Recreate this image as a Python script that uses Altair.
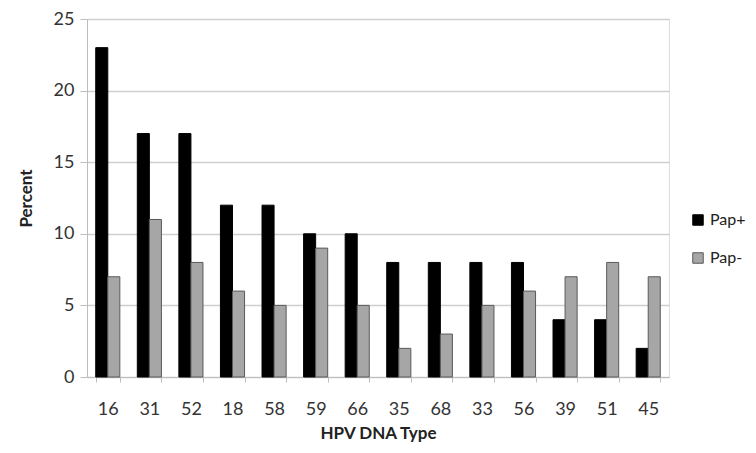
import altair as alt
import pandas as pd

types = ["16", "31", "52", "18", "58", "59", "66", "35", "68", "33", "56", "39", "51", "45"]
pap_pos = [23, 17, 17, 12, 12, 10, 10, 8, 8, 8, 8, 4, 4, 2]
pap_neg = [7, 11, 8, 6, 5, 9, 5, 2, 3, 5, 6, 7, 8, 7]
series = ["Pap+", "Pap-"]

rows = []
for t, p, n in zip(types, pap_pos, pap_neg):
    rows.append({"type": t, "series": "Pap+", "value": p})
    rows.append({"type": t, "series": "Pap-", "value": n})
df = pd.DataFrame(rows)

FONT = "Lato"

chart = alt.Chart(df).mark_bar(strokeWidth=1).encode(
    x=alt.X("type:N", sort=types, title="HPV DNA Type",
            scale=alt.Scale(paddingInner=0.42, paddingOuter=0.21),
            axis=alt.Axis(labelAngle=0, tickBand="extent", labelFontSize=18,
                          labelColor="#333333", labelFont=FONT, labelPadding=18,
                          titleFontSize=17, titleFont=FONT, titleFontWeight="bold",
                          titleColor="#222222", titlePadding=7,
                          domainColor="#bdbdbd", tickColor="#bdbdbd", tickSize=5)),
    xOffset=alt.XOffset("series:N", sort=series),
    y=alt.Y("value:Q", title="Percent",
            scale=alt.Scale(domain=[0, 25]),
            axis=alt.Axis(values=[0, 5, 10, 15, 20, 25], labelFontSize=18,
                          labelColor="#333333", labelFont=FONT, labelPadding=6,
                          titleFontSize=17, titleFont=FONT, titleFontWeight="bold",
                          titleColor="#222222", titlePadding=18,
                          gridColor="#cfcfcf", gridWidth=1.5,
                          domainColor="#bdbdbd", tickColor="#bdbdbd", tickSize=7)),
    color=alt.Color("series:N", sort=series,
                    scale=alt.Scale(domain=series, range=["#000000", "#a6a6a6"]),
                    legend=alt.Legend(title=None, orient="none", legendX=603, legendY=193,
                                      symbolType="square", symbolSize=110,
                                      symbolStrokeColor="#555555", symbolStrokeWidth=1,
                                      labelFontSize=16, labelFont=FONT, labelColor="#222222",
                                      rowPadding=22, labelOffset=4)),
    stroke=alt.Stroke("series:N", sort=series,
                      scale=alt.Scale(domain=series, range=["#000000", "#5a5a5a"]),
                      legend=None),
).properties(
    width=582, height=358,
    autosize=alt.AutoSizeParams(type="none"),
    padding={"left": 79, "top": 11, "right": 79, "bottom": 68},
).configure_view(stroke=None).configure(background="white")

chart.save("out.html", embed_options={"renderer": "svg", "actions": False})
